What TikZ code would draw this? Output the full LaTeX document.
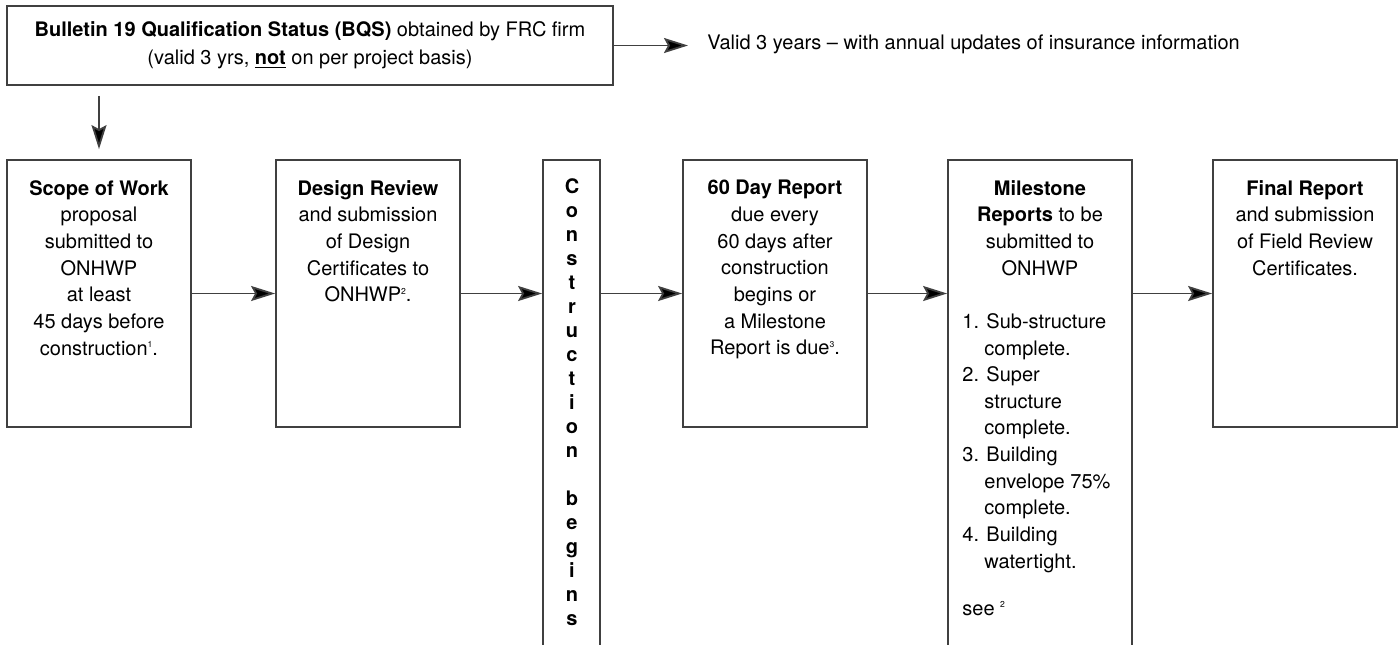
\documentclass[tikz,border=0pt]{standalone}
\usepackage{fontspec}
\setmainfont{TeX Gyre Heros}
\usetikzlibrary{arrows.meta}
\newcommand{\fnmark}[1]{\raisebox{3.7pt}{\fontsize{4.3}{4.3}\selectfont #1}}
\begin{document}
\begin{tikzpicture}[x=0.5pt,y=-0.5pt,
  box/.style={draw=black!75, line width=0.9pt, minimum width=92pt, minimum height=133.5pt, inner sep=0pt},
  txt/.style={font=\fontsize{10}{13.33}\selectfont, align=center, inner sep=0pt, anchor=north},
  plain/.style={font=\fontsize{10}{13.33}\selectfont, inner sep=0pt},
  arr/.style={draw=black!75, line width=0.9pt, -{Stealth[length=12pt, width=7.5pt, inset=2pt, fill=black]}}]
\clip (0,0) rectangle (1399,644);
\fill[white] (0,0) rectangle (1399,644);
% top box
\node[box, minimum width=303pt, minimum height=39.5pt, font=\fontsize{10}{14}\selectfont, align=center] (bqs) at (310,45.5)
  {\textbf{Bulletin 19 Qualification Status (BQS)} obtained by FRC firm\\(valid 3 yrs, \underline{\textbf{not}} on per project basis)};
\node[plain, anchor=west] (valid) at (707,44) {Valid 3 years -- with annual updates of insurance information};
\draw[arr, shorten >=9.5pt] (bqs.east) -- (bqs.east -| valid.west);
% flow boxes
\node[box] (scope) at (99,293.5) {};
\node[box] (design) at (368,293.5) {};
\node[box, minimum width=28.5pt, minimum height=245pt] (constr) at (571.5,405) {};
\node[box] (sixty) at (775,293.5) {};
\node[box, minimum height=245pt] (mile) at (1040,405) {};
\node[box] (final) at (1305,293.5) {};
% texts
\node[txt] (scopeT) at (99,180) {\textbf{Scope of Work}\\proposal\\submitted to\\ONHWP\\at least\\45 days before\\construction\fnmark{1}.};
\node[txt] (designT) at (368,180) {\textbf{Design Review}\\and submission\\of Design\\Certificates to\\ONHWP\fnmark{2}.};
\node[txt, font=\bfseries\fontsize{10}{12}\selectfont] (constrT) at (572,178) {C\\o\\n\\s\\t\\r\\u\\c\\t\\i\\o\\n\\\mbox{}\\b\\e\\g\\i\\n\\s};
\node[txt] (sixtyT) at (775,180) {\textbf{60 Day Report}\\due every\\60 days after\\construction\\begins or\\a Milestone\\Report is due\fnmark{3}.};
\node[txt] (mileT) at (1040,180) {\textbf{Milestone}\\\textbf{Reports} to be\\submitted to\\ONHWP};
\node[txt, anchor=north west, align=left] (mileL) at (962,313) {1. Sub-structure\\\hspace*{11pt}complete.\\2. Super\\\hspace*{11pt}structure\\\hspace*{11pt}complete.\\3. Building\\\hspace*{11pt}envelope 75\%\\\hspace*{11pt}complete.\\4. Building\\\hspace*{11pt}watertight.};
\node[plain, anchor=base west] (see) at (962,615) {see \fnmark{2}};
\node[txt] (finalT) at (1305,180) {\textbf{Final Report}\\and submission\\of Field Review\\Certificates.};
% arrows
\draw[arr] (scope) -- (design);
\draw[arr] (design.east) -- (design.east -| constr.west);
\draw[arr] (constr.east |- sixty.west) -- (sixty.west);
\draw[arr] (sixty.east) -- (sixty.east -| mile.west);
\draw[arr] (mile.east |- final.west) -- (final.west);
\draw[arr, shorten <=5pt, shorten >=5pt] (bqs.south -| scope.north) -- (scope.north);
\end{tikzpicture}
\end{document}
